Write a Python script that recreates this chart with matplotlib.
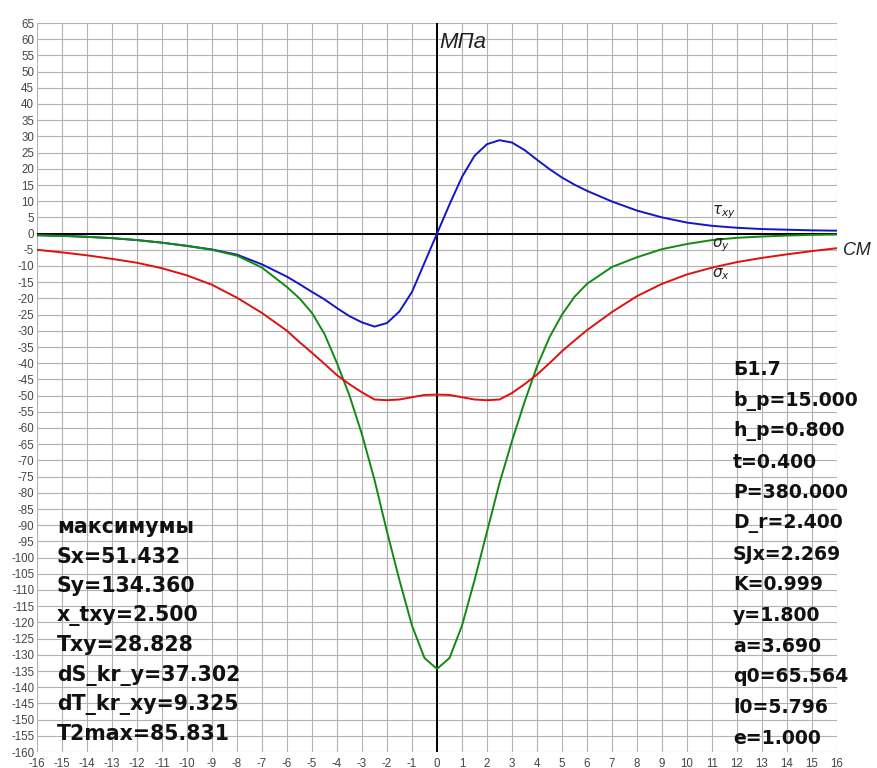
import matplotlib
matplotlib.use("Agg")
import matplotlib.pyplot as plt
import numpy as np

plt.rcParams['font.family'] = ['Liberation Sans', 'DejaVu Sans']

x = [-16, -15, -14, -13, -12, -11, -10, -9, -8, -7, -6,
     -5.5, -5, -4.5, -4, -3.5, -3, -2.5, -2, -1.5, -1, -0.5, 0,
     0.5, 1, 1.5, 2, 2.5, 3, 3.5, 4, 4.5, 5, 5.5,
     6, 7, 8, 9, 10, 11, 12, 13, 14, 15, 16]

tau_xy = [-0.5, -0.7, -1.0, -1.4, -2.0, -2.8, -3.8, -4.9, -6.5, -9.5, -13.3,
          -15.6, -18.0, -20.3, -23.0, -25.5, -27.4, -28.7, -27.6, -24.0, -18.0, -9.0, 0.0,
          9.0, 17.5, 24.0, 27.6, 28.83, 28.1, 25.8, 22.8, 19.9, 17.3, 15.1,
          13.2, 9.9, 7.1, 5.0, 3.4, 2.4, 1.8, 1.4, 1.2, 1.0, 0.9]

sigma_y = [-0.5, -0.7, -1.0, -1.4, -2.0, -2.8, -3.8, -5.0, -6.8, -10.5, -16.5,
           -20.0, -24.5, -31.0, -40.0, -50.0, -62.0, -76.0, -92.0, -107.0, -121.0, -131.0, -134.36,
           -131.0, -121.0, -107.0, -92.0, -77.0, -64.0, -52.0, -41.0, -32.0, -25.0, -19.5,
           -15.5, -10.3, -7.3, -4.8, -3.2, -2.0, -1.3, -0.9, -0.6, -0.4, -0.3]

sigma_x = [-5.0, -5.8, -6.7, -7.8, -9.0, -10.7, -12.9, -15.8, -19.8, -24.5, -30.0,
           -33.5, -36.8, -40.2, -43.7, -46.5, -49.0, -51.2, -51.43, -51.2, -50.5, -49.8, -49.7,
           -49.8, -50.5, -51.2, -51.43, -51.2, -49.2, -46.5, -43.5, -40.0, -36.3, -33.0,
           -29.8, -24.2, -19.3, -15.5, -12.6, -10.5, -8.8, -7.5, -6.4, -5.4, -4.5]

x_ticks = list(range(-16, 17))
y_ticks = list(range(-160, 66, 5))

left_lines = ["максимумы", "Sx=51.432", "Sy=134.360", "x_txy=2.500", "Txy=28.828",
              "dS_kr_y=37.302", "dT_kr_xy=9.325", "T2max=85.831"]
right_lines = ["Б1.7", "b_p=15.000", "h_p=0.800", "t=0.400", "P=380.000", "D_r=2.400",
               "SJx=2.269", "K=0.999", "y=1.800", "a=3.690", "q0=65.564", "l0=5.796", "e=1.000"]

W, H = 878, 768
fig = plt.figure(figsize=(W / 100, H / 100), dpi=100)
L, R, T, B = 37, 837, 23, 752
ax = fig.add_axes([L / W, 1 - B / H, (R - L) / W, (B - T) / H])
ax.set_xlim(-16, 16)
ax.set_ylim(-160, 65)
for s in ax.spines.values():
    s.set_visible(False)

for xv in x_ticks:
    ax.axvline(xv, color='#b2b2b2', lw=0.8, zorder=1)
for yv in y_ticks:
    ax.axhline(yv, color='#b2b2b2', lw=0.8, zorder=1)
ax.axhline(0, color='black', lw=1.4, zorder=2)
ax.axvline(0, color='black', lw=1.4, zorder=2)

ax.plot(x, tau_xy, color='#1515c8', lw=1.4, zorder=3)
ax.plot(x, sigma_y, color='#128a12', lw=1.4, zorder=3)
ax.plot(x, sigma_x, color='#e01010', lw=1.4, zorder=3)

ax.set_xticks(x_ticks)
ax.set_xticklabels([str(v) for v in x_ticks])
ax.set_yticks(y_ticks)
ax.set_yticklabels([str(v) for v in y_ticks])
ax.tick_params(axis='both', length=0, labelsize=8.3, labelcolor='#444444')
ax.tick_params(axis='x', pad=4)
ax.tick_params(axis='y', pad=2)

ax.text(0.1, 59.0, "МПа", style='italic', fontsize=16, color='#222222', ha='left', va='center')
ax.text(16.25, -5.2, "СМ", style='italic', fontsize=13, color='#222222', ha='left', va='center')
ax.text(11.0, 6.5, r'$\tau_{xy}$', fontsize=11, color='#222222', ha='left', va='center')
ax.text(11.0, -3.6, r'$\sigma_y$', fontsize=11, color='#222222', ha='left', va='center')
ax.text(11.0, -12.6, r'$\sigma_x$', fontsize=11, color='#222222', ha='left', va='center')

box_font = ['DejaVu Sans']
for i, s in enumerate(left_lines):
    fig.text(57 / W, 1 - (527 + i * 29.6) / H, s, fontsize=14.8, fontweight='bold',
             family=box_font, color='#111111', ha='left', va='center')
for i, s in enumerate(right_lines):
    fig.text(733 / W, 1 - (370 + i * 30.7) / H, s, fontsize=13.6, fontweight='bold',
             family=box_font, color='#111111', ha='left', va='center')

fig.savefig("out.png", dpi=100, facecolor='white')
